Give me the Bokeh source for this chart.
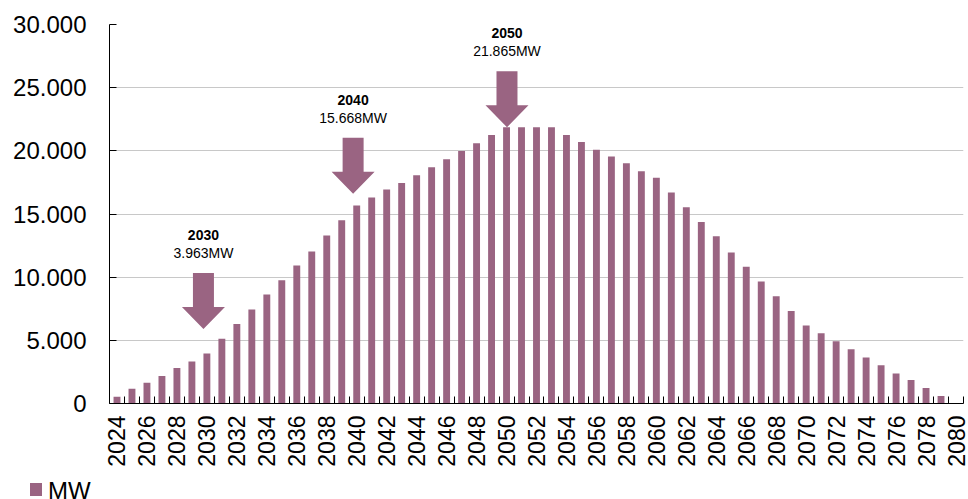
import math
from bokeh.plotting import figure
from bokeh.layouts import column
from bokeh.models import FixedTicker, Range1d, ColumnDataSource, Div
from bokeh.core.properties import value
from bokeh.embed import file_html
from bokeh.resources import INLINE

# ---------------- data ----------------
years = list(range(2024, 2081))
mw = [530, 1170, 1640, 2170, 2810, 3330, 3963, 5130, 6300, 7440,
      8630, 9760, 10930, 12040, 13300, 14500, 15668, 16300, 16940, 17460,
      18070, 18710, 19340, 19980, 20610, 21250, 21865, 21865, 21865, 21865,
      21250, 20700, 20080, 19560, 19020, 18390, 17860, 16700, 15530, 14370,
      13230, 11960, 10830, 9660, 8490, 7330, 6170, 5560, 4920, 4290,
      3650, 3020, 2380, 1860, 1220, 590, 0]
y_ticks = [0, 5000, 10000, 15000, 20000, 25000, 30000]
x_label_years = list(range(2024, 2081, 2))

ann_years = [2030, 2040, 2050]
ann_values = [3963, 15668, 21865]
ann_arrow_x = [2029.77, 2039.76, 2050.03]
ann_arrow_tip = [5900, 16600, 21865]

series_name = "MW"
COLOR = "#9a6482"
FONT = "Liberation Sans"

# ---------------- main figure ----------------
p = figure(width=968, height=479, output_backend="svg", toolbar_location=None,
           x_range=Range1d(2023.5, 2080.5), y_range=Range1d(0, 30000),
           min_border_left=109, min_border_right=5, min_border_top=24,
           min_border_bottom=76)
p.outline_line_color = None
p.background_fill_color = "white"
p.border_fill_color = "white"

src = ColumnDataSource(dict(x=years, top=mw))
bars = p.vbar(x="x", top="top", width=0.46, source=src, fill_color=COLOR,
              line_color=None)

# arrows (shape derived from annotation data, sizes in px converted to data units)
px_x = 57 / 854.0
px_y = 30000 / 379.0
body_hw, head_hw = 10.5 * px_x, 21.5 * px_x
head_len, total_len = 22 * px_y, 56 * px_y
xs, ys = [], []
for ax, tip in zip(ann_arrow_x, ann_arrow_tip):
    top = tip + total_len
    hb = tip + head_len
    xs.append([ax - body_hw, ax + body_hw, ax + body_hw, ax + head_hw, ax,
               ax - head_hw, ax - body_hw])
    ys.append([top, top, hb, hb, tip, hb, hb])
p.patches(xs, ys, fill_color=COLOR, line_color=None)

tops = [t + total_len for t in ann_arrow_tip]
yr_src = ColumnDataSource(dict(x=ann_arrow_x, y=[t + 38 * px_y for t in tops],
                               t=[str(y) for y in ann_years]))
val_src = ColumnDataSource(dict(x=ann_arrow_x, y=[t + 20 * px_y for t in tops],
                                t=[f"{v:,}".replace(",", ".") + "MW" for v in ann_values]))
p.text(x="x", y="y", text="t", source=yr_src, text_font=value(FONT),
       text_font_size="14px", text_font_style="bold", text_align="center",
       text_baseline="middle", text_color="black")
p.text(x="x", y="y", text="t", source=val_src, text_font=value(FONT),
       text_font_size="14px", text_align="center", text_baseline="middle",
       text_color="black")

# axes
p.xgrid.visible = False
p.ygrid.grid_line_color = "#c8c8c8"
p.ygrid.grid_line_width = 1
p.ygrid.ticker = FixedTicker(ticks=y_ticks)

yax = p.yaxis[0]
yax.ticker = FixedTicker(ticks=y_ticks)
yax.major_label_overrides = {t: f"{t:,}".replace(",", ".") for t in y_ticks}
yax.major_tick_in = 7
yax.major_tick_out = 0
yax.minor_tick_in = 0
yax.minor_tick_out = 0
yax.major_label_standoff = 23
yax.major_label_text_font = FONT
yax.major_label_text_font_size = "24px"
yax.major_label_text_color = "black"
yax.axis_line_color = "black"
yax.major_tick_line_color = "black"

xax = p.xaxis[0]
xax.ticker = FixedTicker(ticks=x_label_years,
                         minor_ticks=[y - 0.5 for y in years] + [years[-1] + 0.5])
xax.major_label_overrides = {y: str(y) for y in x_label_years}
xax.major_tick_in = 0
xax.major_tick_out = 0
xax.minor_tick_in = 7
xax.minor_tick_out = 0
xax.minor_tick_line_color = "black"
xax.major_label_orientation = math.pi / 2
xax.major_label_standoff = 12
xax.major_label_text_font = FONT
xax.major_label_text_font_size = "23px"
xax.major_label_text_color = "black"
xax.axis_line_color = "black"

# ---------------- legend strip (square swatch + series name) ----------------
legend_div = Div(
    text=(f'<span style="display:inline-block;width:12px;height:13px;'
          f'background:{COLOR};vertical-align:3px;margin-right:6px;"></span>'
          f'{series_name}'),
    width=968, height=20, margin=(0, 0, 0, 0),
    styles={"font-family": FONT, "font-size": "24px", "line-height": "24px",
            "color": "black", "padding-left": "30px", "white-space": "nowrap",
            "box-sizing": "border-box"})

layout = column(p, legend_div, spacing=0)
open("out.html", "w").write(file_html(layout, INLINE))
